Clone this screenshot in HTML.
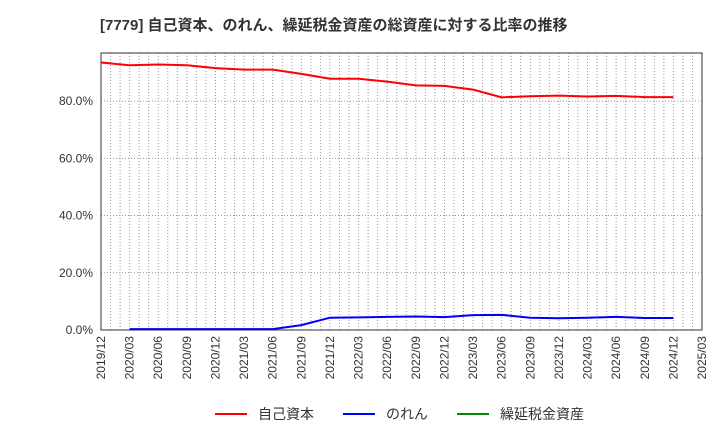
<!DOCTYPE html>
<html><head><meta charset="utf-8"><style>
body{margin:0;background:#fff;font-family:"Liberation Sans","Noto Sans CJK JP",sans-serif}
</style></head><body>
<svg id="c" width="720" height="440" xmlns="http://www.w3.org/2000/svg">
<text x="100" y="30" font-size="15" font-weight="bold" fill="#333">[7779]  自己資本、のれん、繰延税金資産の総資産に対する比率の推移</text>
<g id="grid"></g><g id="axes"></g><g id="series"></g>
<g font-size="14" fill="#333">
<line x1="215" y1="414" x2="247" y2="414" stroke="#f00" stroke-width="2"/><text x="258" y="419">自己資本</text>
<line x1="343" y1="414" x2="375" y2="414" stroke="#00f" stroke-width="2"/><text x="386" y="419">のれん</text>
<line x1="457" y1="414" x2="489" y2="414" stroke="#080" stroke-width="2"/><text x="500" y="419">繰延税金資産</text>
</g>
</svg>
<script>
const categories=["2019/12","2020/03","2020/06","2020/09","2020/12","2021/03","2021/06","2021/09","2021/12","2022/03","2022/06","2022/09","2022/12","2023/03","2023/06","2023/09","2023/12","2024/03","2024/06","2024/09","2024/12","2025/03"];
const equity=[93.5,92.5,92.8,92.5,91.5,91,91,89.5,87.8,87.8,86.8,85.5,85.3,84,81.3,81.7,81.9,81.6,81.8,81.4,81.4];
const goodwill=[null,0.3,0.3,0.3,0.3,0.3,0.3,1.7,4.3,4.4,4.6,4.7,4.5,5.2,5.3,4.3,4.1,4.3,4.6,4.2,4.2];
const yTicks=[0,20,40,60,80];
const L=101,R=702,T=53,B=330,yMax=96.8;
const ns="http://www.w3.org/2000/svg";
const X=i=>L+(R-L)*i/(categories.length-1);
const Y=v=>B-(B-T)*v/yMax;
function mk(t,a,p){const e=document.createElementNS(ns,t);for(const k in a)e.setAttribute(k,a[k]);p.appendChild(e);return e;}
const g=document.getElementById('grid'),ax=document.getElementById('axes'),s=document.getElementById('series');
const months=(categories.length-1)*3;
for(let m=1;m<months;m++){const x=L+(R-L)*m/months;const l=mk('line',{x1:x,x2:x,y1:T,y2:B,stroke:'#999','stroke-dasharray':'1,2','stroke-width':1},g);

}
yTicks.forEach(v=>{const y=Y(v);if(v>0){const l=mk('line',{x1:L,x2:R,y1:y,y2:y,stroke:'#999','stroke-dasharray':'1,2'},g);

}
const t=mk('text',{x:L-8,y:y+4,'text-anchor':'end','font-size':12,fill:'#333'},ax);t.textContent=v.toFixed(1)+'%';

});
const fr=mk('rect',{x:L,y:T,width:R-L,height:B-T,fill:'none',stroke:'#333'},ax);


categories.forEach((c,i)=>{const x=X(i);const t=mk('text',{transform:`translate(${x+4},${B+6}) rotate(-90)`,'text-anchor':'end','font-size':12,fill:'#333'},ax);t.textContent=c;

});
function line(d,col,name){let p='';d.forEach((v,i)=>{if(v==null)return;p+=(p?'L':'M')+X(i)+','+Y(v);});
const e=mk('path',{d:p,fill:'none',stroke:col,'stroke-width':2},s);

}
line(equity,'#f00','equity-ratio-line');
line(goodwill,'#00f','goodwill-ratio-line');
</script>
</body></html>
